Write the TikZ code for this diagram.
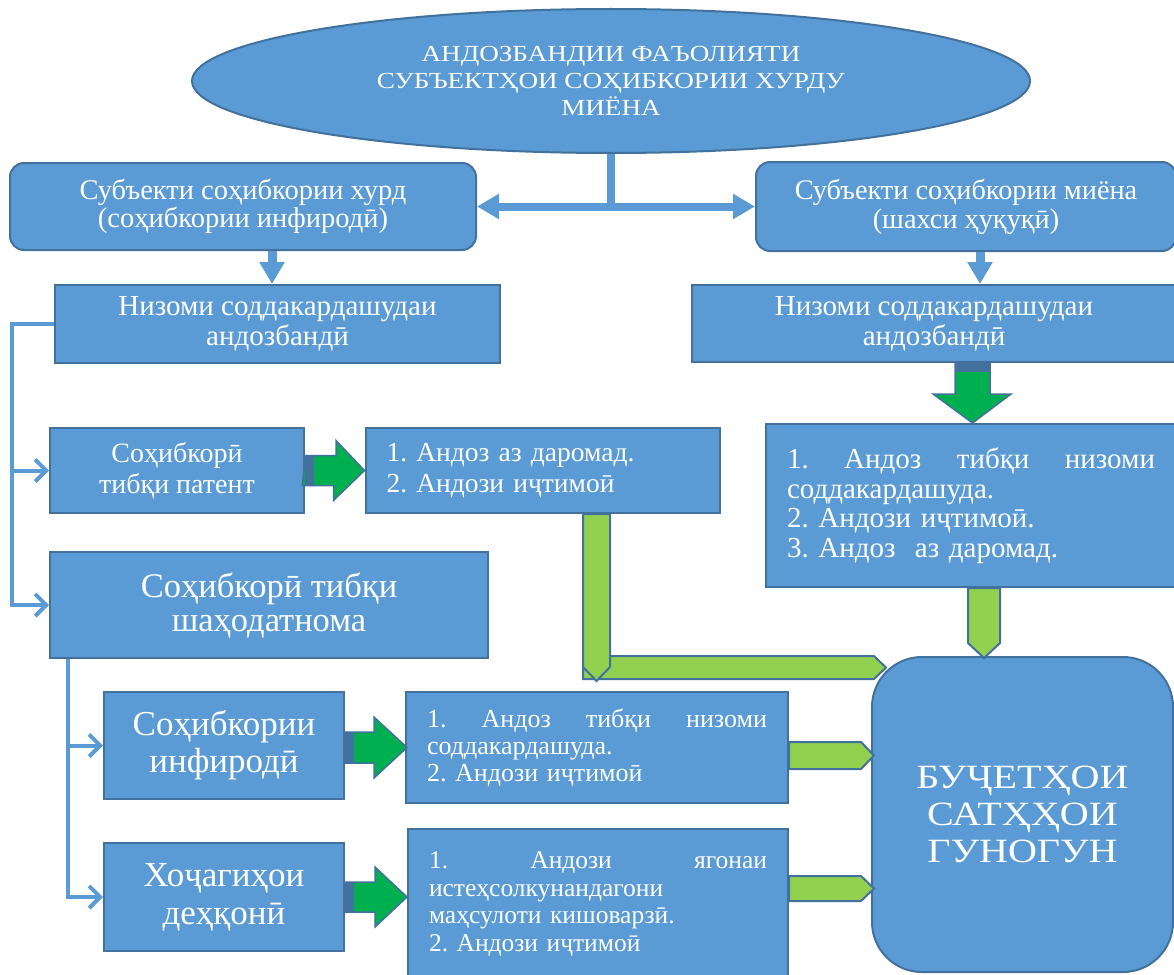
\documentclass[tikz,border=0pt]{standalone}
\usepackage{fontspec}
\setmainfont{Liberation Serif}
\newfontfamily\widefont[FakeStretch=1.18]{Liberation Serif}
\usetikzlibrary{shapes.geometric,arrows.meta,calc}

\definecolor{boxblue}{HTML}{5B9BD5}
\definecolor{boxedge}{HTML}{41719C}
\definecolor{arrowgreen}{HTML}{00B050}
\definecolor{limegreen}{HTML}{92D050}

\tikzset{
  box/.style={draw=boxedge, fill=boxblue, line width=2pt, text=white, inner sep=0pt, align=center},
  roundbox/.style={box, rounded corners=14pt},
  listbox/.style={box, align=left, inner xsep=21pt},
  bluearrow/.style={draw=boxblue, line width=8pt, -{Triangle[length=22pt,width=24pt]}},
  thinarrow/.style={draw=boxblue, line width=4pt, -{Straight Barb[length=11pt,width=22pt]}},
  greenarrow/.style={draw=boxedge, fill=arrowgreen, line width=1.5pt},
  limearrow/.style={draw=boxedge, fill=limegreen, line width=2pt},
}

\begin{document}
\begin{tikzpicture}[x=1pt,y=-1pt]
        \clip (0,0) rectangle (1174,974);

        % Title
        \node[box, ellipse, minimum width=838pt, minimum height=144pt, font=\widefont\fontsize{23}{27}\selectfont] (top) at (611,81) {АНДОЗБАНДИИ ФАЪОЛИЯТИ\\СУБЪЕКТҲОИ СОҲИБКОРИИ ХУРДУ\\МИЁНА};

        % Subjects
        \node[roundbox, minimum width=466pt, minimum height=87pt, font=\fontsize{28.5}{28}\selectfont] (small) at (243,206.5) {Субъекти соҳибкории хурд\\(соҳибкории инфиродӣ)};
        \node[roundbox, minimum width=420pt, minimum height=89pt, font=\fontsize{28.3}{29}\selectfont] (medium) at (966,206.5) {Субъекти соҳибкории миёна\\(шахси ҳуқуқӣ)};

        % Simplified regimes
        \node[box, minimum width=445pt, minimum height=78pt, font=\fontsize{29}{30}\selectfont] (simpL) at (277.5,324) {Низоми соддакардашудаи\\андозбандӣ};
        \node[box, minimum width=484pt, minimum height=77pt, font=\fontsize{29}{30}\selectfont] (simpR) at (934,323.5) {Низоми соддакардашудаи\\андозбандӣ};

        % Left branch
        \node[box, minimum width=254pt, minimum height=85pt, font=\fontsize{28}{31}\selectfont] (patent) at (177,470.5) {Соҳибкорӣ\\тибқи патент};
        \node[listbox, text width=312pt, minimum height=85pt, font=\frenchspacing\fontsize{27.5}{31}\selectfont] (patentTax) at (542.5,470.5) {1. Андоз аз даромад.\\2. Андози иҷтимоӣ};
        \node[box, minimum width=438pt, minimum height=106pt, font=\fontsize{34.5}{34}\selectfont] (cert) at (269,605) {Соҳибкорӣ тибқи\\шаҳодатнома};
        \node[box, minimum width=240pt, minimum height=107pt, font=\fontsize{35}{37}\selectfont] (indiv) at (224,745.5) {Соҳибкории\\инфиродӣ};
        \node[listbox, text width=340pt, minimum height=111pt, font=\frenchspacing\fontsize{26}{27}\selectfont] (indivTax) at (597,747.5) {\hbox to \hsize{1.\hfill Андоз\hfill тибқи\hfill низоми}\\соддакардашуда.\\2. Андози иҷтимоӣ};
        \node[box, minimum width=240pt, minimum height=108pt, font=\fontsize{35}{38}\selectfont] (farm) at (224,897) {Хоҷагиҳои\\деҳқонӣ};
        \node[listbox, text width=338pt, minimum height=150pt, font=\frenchspacing\fontsize{25.5}{27.5}\selectfont] (farmTax) at (598,904) {\hbox to \hsize{1.\hfill Андози\hfill ягонаи}\\истеҳсолкунандагони\\маҳсулоти кишоварзӣ.\\2. Андози иҷтимоӣ};

        % Right branch
        \node[listbox, text width=368pt, minimum height=163pt, font=\frenchspacing\fontsize{29}{29.5}\selectfont] (medTax) at (971,505.5) {\hbox to \hsize{1.\hfill Андоз\hfill тибқи\hfill низоми}\\соддакардашуда.\\2. Андози иҷтимоӣ.\\3. Андоз\ \ аз даромад.};

        % Budgets
        \node[box, rounded corners=50pt, minimum width=301pt, minimum height=315pt, font=\widefont\fontsize{34}{37}\selectfont] (budget) at (1022.5,814.5) {БУҶЕТҲОИ\\САТҲҲОИ\\ГУНОГУН};

        % Blue connectors
        \draw[bluearrow] (top.south) |- (small.east);
        \draw[bluearrow] (top.south) |- (medium.west);
        \draw[bluearrow, line width=9pt] ($(small.south)+(29,0)$) -- ($(simpL.north)+(-5.5,0)$);
        \draw[bluearrow, line width=9pt] ($(medium.south)+(14,0)$) -- ($(simpR.north)+(46,0)$);

        \coordinate (spineL) at ($(simpL.west)+(-42,0)$);
        \draw[thinarrow] (simpL.west) -- (spineL) |- (cert.west);
        \draw[thinarrow] (spineL |- patent.west) -- (patent.west);
        \coordinate (spineM) at ($(cert.south west)+(19,0)$);
        \draw[thinarrow] (spineM) |- (indiv.west);
        \draw[thinarrow] (spineM) |- (farm.west);

        % Green arrows
        \draw[greenarrow] ($(patent.east)+(0,-15)$) -- ++(31,0) -- ++(0,-15) -- (patentTax.west) -- ++(-31,30) -- ++(0,-15) -- ++(-31,0) -- cycle;
        \draw[greenarrow] ($(indiv.east)+(0,-13.5)$) -- ++(29,0) -- ++(0,-15) -- ++(33,30.5) -- ++(-33,30.5) -- ++(0,-15) -- ++(-29,0) -- cycle;
        \draw[greenarrow] ($(farm.east)+(0,-15)$) -- ++(30,0) -- ++(0,-15) -- ++(32,30) -- ++(-32,30) -- ++(0,-15) -- ++(-30,0) -- cycle;
        \draw[greenarrow] ($(simpR.south)+(21,0)$) -- ++(0,31) -- ++(-22,0) -- ++(39.5,29) -- ++(38.5,-29) -- ++(-21,0) -- ++(0,-31) -- cycle;
        \fill[boxedge] ($(patent.east)+(0,-15)$) rectangle ++(9,30);
        \fill[boxedge] ($(indiv.east)+(0,-13.5)$) rectangle ++(9,31);
        \fill[boxedge] ($(farm.east)+(0,-15)$) rectangle ++(9,30);
        \fill[boxedge] ($(simpR.south)+(21,0)$) rectangle ++(35,9);

        % Light green arrows
        \coordinate (lbar) at ($(patentTax.south)+(40.5,0)$);
        \draw[limearrow] (lbar |- budget.north) -- ($(budget.north west)+(3,0)$) -- ++(12,11.5) -- ++(-12,11.5) -- ($(lbar |- budget.north)+(0,23)$) -- cycle;
        \draw[limearrow] (lbar) -- ++(27,0) -- ++(0,153) -- ++(-13.5,14) -- ++(-13.5,-14) -- cycle;
        \draw[limearrow] ($(medTax.south)+(-3,0)$) -- ++(32,0) -- ++(0,55) -- ++(-16,15) -- ++(-16,-15) -- cycle;
        \draw[limearrow] ($(indivTax.east)+(0,-5.5)$) -- ++(72,0) -- ++(13,13.5) -- ++(-13,13.5) -- ++(-72,0) -- cycle;
        \draw[limearrow] ($(farmTax.east)+(0,-28)$) -- ++(72,0) -- ++(13,12.5) -- ++(-13,12.5) -- ++(-72,0) -- cycle;
\end{tikzpicture}
\end{document}
